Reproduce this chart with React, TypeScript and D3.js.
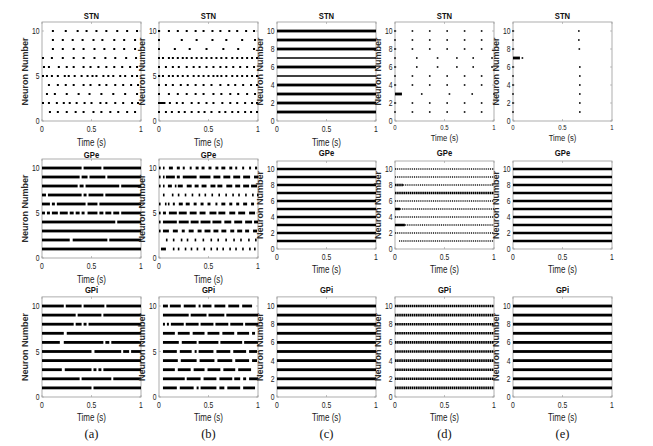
import React from 'react';
import * as d3 from 'd3';

// ---- data -------------------------------------------------------------
// rows are listed neuron 1 first, neuron 10 last
type Seg = [number, number];

const nuclei = ['STN', 'GPe', 'GPi'];
const panelLetters = ['(a)', '(b)', '(c)', '(d)', '(e)'];
const neurons = [1, 2, 3, 4, 5, 6, 7, 8, 9, 10];
const xTicks = [0, 0.5, 1];
const yTicksWide = [0, 5, 10];
const yTicksFine = [0, 2, 4, 6, 8, 10];

// STN spike times (s)
const stnA: number[][] = [
  [0.08, 0.16, 0.25, 0.34, 0.42, 0.52, 0.6, 0.69, 0.77, 0.86, 0.94],
  [0.01, 0.07, 0.15, 0.22, 0.28, 0.35, 0.43, 0.5, 0.59, 0.65, 0.74, 0.82, 0.91, 0.97],
  [0.05, 0.13, 0.25, 0.37, 0.48, 0.6, 0.72, 0.84, 0.96],
  [0.07, 0.16, 0.24, 0.32, 0.42, 0.49, 0.58, 0.65, 0.74, 0.82, 0.9, 0.97],
  [0.01, 0.05, 0.1, 0.16, 0.23, 0.27, 0.33, 0.4, 0.46, 0.51, 0.55, 0.62, 0.67, 0.72, 0.79, 0.84, 0.91, 0.96],
  [0.02, 0.07, 0.17, 0.25, 0.32, 0.42, 0.49, 0.57, 0.65, 0.73, 0.81, 0.89, 0.96],
  [0.01, 0.1, 0.21, 0.32, 0.42, 0.53, 0.64, 0.74, 0.85, 0.95],
  [0.11, 0.21, 0.32, 0.42, 0.53, 0.63, 0.73, 0.83, 0.94],
  [0.11, 0.21, 0.31, 0.41, 0.52, 0.61, 0.73, 0.83, 0.94],
  [0.11, 0.24, 0.36, 0.45, 0.55, 0.65, 0.76, 0.86, 0.96],
];
const stnB: number[][] = [
  [0, 0.07, 0.13, 0.2, 0.26, 0.33, 0.4, 0.46, 0.53, 0.61, 0.67, 0.74, 0.8, 0.87, 0.93, 0.99],
  [0, 0.015, 0.03, 0.04, 0.055, 0.11, 0.18, 0.24, 0.33, 0.4, 0.48, 0.55, 0.64, 0.72, 0.79, 0.87, 0.94, 0.99],
  [0, 0.1, 0.19, 0.28, 0.37, 0.45, 0.55, 0.63, 0.72, 0.8, 0.89, 0.97],
  [0, 0.07, 0.14, 0.22, 0.29, 0.37, 0.45, 0.53, 0.62, 0.7, 0.77, 0.85, 0.93, 0.99],
  [0, 0.04, 0.1, 0.14, 0.19, 0.24, 0.29, 0.35, 0.4, 0.45, 0.5, 0.55, 0.59, 0.63, 0.68, 0.74, 0.79, 0.84, 0.89, 0.94, 0.99],
  [0, 0.07, 0.14, 0.2, 0.28, 0.35, 0.41, 0.48, 0.55, 0.62, 0.68, 0.75, 0.82, 0.89, 0.96],
  [0, 0.04, 0.1, 0.14, 0.19, 0.24, 0.28, 0.33, 0.38, 0.43, 0.48, 0.53, 0.58, 0.63, 0.68, 0.74, 0.79, 0.84, 0.89, 0.94, 0.99],
  [0, 0.16, 0.31, 0.48, 0.65, 0.8, 0.96],
  [0, 0.23, 0.38, 0.54, 0.68, 0.84, 0.97],
  [0, 0.1, 0.19, 0.28, 0.37, 0.45, 0.54, 0.62, 0.71, 0.79, 0.88, 0.96],
];
const stnD: number[][] = [
  [0, 0.176, 0.351, 0.527, 0.703, 0.875],
  [0, 0.176, 0.351, 0.527, 0.703, 0.875],
  [0.27, 0.55, 0.78, 1.0],
  [0, 0.176, 0.351, 0.527, 0.703, 0.875],
  [0, 0.176, 0.351, 0.527, 0.703, 0.875],
  [0, 0.22, 0.43, 0.625, 0.79, 0.98],
  [0, 0.22, 0.43, 0.625, 0.79, 0.98],
  [0, 0.176, 0.351, 0.527, 0.703, 0.875],
  [0, 0.176, 0.351, 0.527, 0.703, 0.875],
  [0, 0.176, 0.351, 0.527, 0.703, 0.875],
];
const stnDBurst: Seg[][] = [[], [], [[0, 0.07]], [], [], [], [], [], [], []];
const stnE: number[][] = [
  [0, 0.675], [0, 0.675], [0, 0.675], [0, 0.675], [0, 0.675],
  [0, 0.675], [0.095], [0, 0.67], [0, 0.665], [0, 0.665],
];
const stnEBurst: Seg[][] = [[], [], [], [], [], [], [[0, 0.07]], [], [], []];

// firing intervals (s): continuous high-rate firing
const full: Seg[] = [[0, 1]];
const allFull: Seg[][] = [full, full, full, full, full, full, full, full, full, full];

const stnCDense: Seg[][] = [full, full, full, full, [], full, [], full, full, full];
const stnCWeak: Seg[][] = [[], [], [], [], full, [], full, [], [], []];

const gpeA: Seg[][] = [
  [[0, 1]],
  [[0, 0.28], [0.31, 0.66], [0.68, 1]],
  [[0, 1]],
  [[0, 0.74], [0.76, 1]],
  [[0, 0.03], [0.05, 0.08], [0.1, 0.16], [0.18, 0.26], [0.28, 0.32], [0.34, 0.38], [0.4, 0.43], [0.46, 0.56], [0.58, 0.62], [0.64, 0.7], [0.72, 0.78], [0.8, 1]],
  [[0, 0.08], [0.1, 0.13], [0.15, 0.44], [0.46, 0.56], [0.58, 1]],
  [[0, 0.04], [0.06, 0.4], [0.42, 0.45], [0.47, 0.62], [0.64, 1]],
  [[0, 0.36], [0.38, 0.42], [0.44, 0.78], [0.8, 1]],
  [[0, 0.38], [0.4, 0.46], [0.48, 0.64], [0.66, 1]],
  [[0, 0.4], [0.42, 0.6], [0.62, 1]],
];
const gpeB: Seg[][] = [
  [[0.02, 0.07], [0.14, 0.145], [0.19, 0.195], [0.26, 0.265], [0.32, 0.325], [0.38, 0.385], [0.45, 0.455], [0.52, 0.525], [0.58, 0.585], [0.64, 0.645], [0.71, 0.715], [0.77, 0.775], [0.84, 0.845], [0.91, 0.915], [0.96, 0.965]],
  [[0.07, 0.085], [0.14, 0.155], [0.22, 0.235], [0.28, 0.295], [0.36, 0.375], [0.44, 0.455], [0.52, 0.535], [0.59, 0.605], [0.67, 0.685], [0.75, 0.765], [0.82, 0.835], [0.9, 0.915], [0.97, 0.985]],
  [[0, 0.01], [0.04, 0.1], [0.14, 0.19], [0.23, 0.26], [0.3, 0.35], [0.39, 0.43], [0.46, 0.52], [0.55, 0.6], [0.63, 0.68], [0.72, 0.76], [0.79, 0.84], [0.87, 0.91], [0.95, 0.99]],
  [[0, 0.015], [0.04, 0.18], [0.2, 0.3], [0.32, 0.4], [0.42, 0.52], [0.54, 0.63], [0.66, 0.73], [0.76, 0.84], [0.87, 0.94], [0.96, 1]],
  [[0, 0.01], [0.04, 0.07], [0.1, 0.18], [0.2, 0.28], [0.31, 0.38], [0.41, 0.47], [0.51, 0.58], [0.6, 0.67], [0.71, 0.77], [0.8, 0.87], [0.91, 0.97]],
  [[0, 0.015], [0.06, 0.065], [0.09, 0.095], [0.14, 0.16], [0.2, 0.24], [0.27, 0.31], [0.35, 0.38], [0.42, 0.45], [0.49, 0.52], [0.57, 0.59], [0.63, 0.67], [0.71, 0.74], [0.78, 0.81], [0.85, 0.89], [0.93, 0.96]],
  [[0.04, 0.045], [0.13, 0.135], [0.19, 0.195], [0.26, 0.265], [0.33, 0.335], [0.4, 0.405], [0.46, 0.465], [0.53, 0.535], [0.6, 0.605], [0.67, 0.675], [0.74, 0.745], [0.8, 0.805], [0.87, 0.875], [0.94, 0.945], [0.99, 0.995]],
  [[0, 0.01], [0.04, 0.05], [0.09, 0.13], [0.16, 0.17], [0.19, 0.24], [0.28, 0.33], [0.36, 0.4], [0.43, 0.48], [0.52, 0.57], [0.59, 0.64], [0.68, 0.74], [0.77, 0.82], [0.85, 0.91], [0.93, 0.99]],
  [[0, 0.01], [0.04, 0.05], [0.07, 0.16], [0.18, 0.21], [0.24, 0.38], [0.41, 0.52], [0.55, 0.62], [0.65, 0.72], [0.75, 0.82], [0.85, 0.92], [0.96, 1]],
  [[0, 0.015], [0.04, 0.045], [0.1, 0.14], [0.18, 0.21], [0.24, 0.26], [0.31, 0.33], [0.37, 0.4], [0.43, 0.46], [0.5, 0.53], [0.57, 0.6], [0.63, 0.67], [0.71, 0.74], [0.77, 0.79], [0.84, 0.86], [0.91, 0.93], [0.97, 0.99]],
];
const gpeDDense: Seg[][] = [[], [], [[0, 0.1]], [], [[0, 0.05]], [], [], [], [], []];
const gpeDFast: Seg[][] = [[], [], [], [], [], [], [[0, 1]], [[0, 0.08]], [], []];
const gpeDTonic: Seg[][] = [
  [[0.04, 1]], [[0, 1]], [[0.1, 1]], [[0, 1]], [[0.05, 1]],
  [[0, 1]], [], [[0.08, 1]], [[0, 1]], [[0, 1]],
];

const gpiA: Seg[][] = [
  [[0, 0.5], [0.52, 1]],
  [[0, 0.38], [0.4, 0.7], [0.72, 1]],
  [[0, 0.2], [0.23, 0.5], [0.52, 0.55], [0.57, 0.6], [0.62, 1]],
  [[0, 1]],
  [[0, 0.5], [0.53, 0.8], [0.82, 0.88], [0.9, 1]],
  [[0, 0.18], [0.22, 0.62], [0.64, 0.68], [0.7, 1]],
  [[0, 0.22], [0.25, 1]],
  [[0, 0.32], [0.34, 0.4], [0.42, 0.45], [0.47, 1]],
  [[0, 0.34], [0.36, 0.6], [0.62, 1]],
  [[0, 0.22], [0.24, 0.4], [0.42, 0.63], [0.65, 1]],
];
const gpiB: Seg[][] = [
  [[0.04, 0.18], [0.21, 0.35], [0.38, 0.4], [0.42, 0.58], [0.61, 0.66], [0.69, 0.82], [0.85, 0.97]],
  [[0.04, 0.26], [0.28, 0.42], [0.45, 0.58], [0.61, 0.74], [0.76, 0.82], [0.85, 0.88], [0.91, 1]],
  [[0.04, 0.16], [0.19, 0.32], [0.35, 0.46], [0.49, 0.62], [0.65, 0.77], [0.8, 0.93]],
  [[0.04, 0.19], [0.22, 0.38], [0.41, 0.56], [0.59, 0.74], [0.77, 0.91], [0.94, 0.99]],
  [[0.04, 0.18], [0.21, 0.33], [0.36, 0.38], [0.4, 0.55], [0.58, 0.72], [0.75, 0.88], [0.91, 0.99]],
  [[0.04, 0.2], [0.23, 0.38], [0.4, 0.6], [0.62, 0.84], [0.86, 1]],
  [[0.04, 0.16], [0.19, 0.31], [0.34, 0.46], [0.49, 0.61], [0.64, 0.76], [0.79, 0.91], [0.94, 0.97]],
  [[0.04, 0.06], [0.08, 0.1], [0.12, 0.25], [0.27, 0.4], [0.42, 0.55], [0.57, 0.7], [0.72, 0.85], [0.87, 1]],
  [[0.04, 0.3], [0.32, 0.48], [0.5, 0.66], [0.68, 1]],
  [[0.04, 0.09], [0.11, 0.22], [0.25, 0.37], [0.4, 0.42], [0.44, 0.53], [0.56, 0.67], [0.7, 0.81], [0.84, 0.94]],
];

type PanelData = {
  spikes?: number[][];
  dense?: Seg[][];
  fast?: Seg[][];
  tonic?: Seg[][];
  weak?: Seg[][];
};

// panels[row][col]
const panels: PanelData[][] = [
  [
    { spikes: stnA },
    { spikes: stnB },
    { dense: stnCDense, weak: stnCWeak },
    { spikes: stnD, dense: stnDBurst },
    { spikes: stnE, dense: stnEBurst },
  ],
  [
    { dense: gpeA },
    { dense: gpeB },
    { dense: allFull },
    { dense: gpeDDense, fast: gpeDFast, tonic: gpeDTonic },
    { dense: allFull },
  ],
  [
    { dense: gpiA },
    { dense: gpiB },
    { dense: allFull },
    { fast: allFull },
    { dense: allFull },
  ],
];

// ---- layout -------------------------------------------------------------
const W = 653;
const H = 446;
const colLeft = [42, 159, 277, 395, 513];
const plotW = 99;

// y pixel of neuron 0 and px per neuron, per row and column
const geom = (row: number, col: number) => {
  if (row === 0) return col >= 3
    ? { bottom: 121, unit: 9, title: 19, tick: 8.5, tickSize: 7.5, xlab: 141 }
    : { bottom: 121, unit: 9, title: 19, tick: 10.5, tickSize: 8.5, xlab: 146 };
  if (row === 1) return col < 2
    ? { bottom: 258, unit: 9, title: 158, tick: 10.5, tickSize: 8.5, xlab: 283 }
    : { bottom: 249, unit: 8, title: 156, tick: 10.5, tickSize: 8.5, xlab: 273 };
  return { bottom: 397, unit: 9.1, title: 293, tick: 10.5, tickSize: 8.5, xlab: 421 };
};

const sans = "'Liberation Sans', Arial, sans-serif";
const boxColor = '#9a9a9a';

// condensed look of the original (Arial Narrow) by squeezing Liberation Sans
const Narrow = ({ x, y, size, anchor = 'middle', children }:
  { x: number; y: number; size: number; anchor?: string; children: React.ReactNode }) => (
  <text transform={`translate(${x},${y}) scale(0.8,1)`} textAnchor={anchor}
    fontFamily={sans} fontSize={size} fill="#1a1a1a">
    {children}
  </text>
);

const Panel = ({ row, col, data }: { row: number; col: number; data: PanelData }) => {
  const g = geom(row, col);
  const left = colLeft[col];
  const top = g.bottom - 11 * g.unit;
  const x = d3.scaleLinear().domain([0, 1]).range([left, left + plotW]);
  const y = d3.scaleLinear().domain([0, 11]).range([g.bottom, top]);
  const yTicks = col < 2 ? yTicksWide : yTicksFine;
  const thick = g.unit >= 9 ? 2.8 : 2.5;
  const dot = col < 2 ? 2 : 1.6;

  const segs = (list: Seg[][] | undefined) =>
    (list || []).flatMap((r, i) => r.map((s) => ({ n: neurons[i], s })));

  return (
    <g>
      <rect x={left} y={top} width={plotW} height={g.bottom - top} fill="#fff" stroke={boxColor} strokeWidth={0.8} />
      {xTicks.map((t) => (
        <g key={'x' + t}>
          <line x1={x(t)} x2={x(t)} y1={g.bottom} y2={g.bottom - 2} stroke={boxColor} strokeWidth={0.6} />
          <line x1={x(t)} x2={x(t)} y1={top} y2={top + 2} stroke={boxColor} strokeWidth={0.6} />
          <Narrow x={x(t)} y={g.bottom + g.tick} size={g.tickSize}>{t}</Narrow>
        </g>
      ))}
      {yTicks.map((t) => (
        <g key={'y' + t}>
          <line x1={left} x2={left + 2} y1={y(t)} y2={y(t)} stroke={boxColor} strokeWidth={0.6} />
          <line x1={left + plotW} x2={left + plotW - 2} y1={y(t)} y2={y(t)} stroke={boxColor} strokeWidth={0.6} />
          <Narrow x={left - 2.5} y={y(t) + 3} size={8.5} anchor="end">{t}</Narrow>
        </g>
      ))}

      {segs(data.dense).map(({ n, s }, i) => (
        <rect key={'d' + i} x={x(s[0])} y={y(n) - thick / 2}
          width={Math.max(x(s[1]) - x(s[0]), 1.6)} height={thick} fill="#000" />
      ))}
      {segs(data.weak).map(({ n, s }, i) => (
        <line key={'w' + i} x1={x(s[0])} x2={x(s[1])} y1={y(n)} y2={y(n)} stroke="#000" strokeWidth={1.6} />
      ))}
      {segs(data.fast).map(({ n, s }, i) => (
        <line key={'f' + i} x1={x(s[0])} x2={x(s[1])} y1={y(n)} y2={y(n)}
          stroke="#000" strokeWidth={2.6} strokeDasharray="1.6 0.5" />
      ))}
      {segs(data.tonic).map(({ n, s }, i) => (
        <line key={'t' + i} x1={x(s[0])} x2={x(s[1])} y1={y(n)} y2={y(n)}
          stroke="#111" strokeWidth={1.4} strokeDasharray="1 0.9" />
      ))}
      {(data.spikes || []).flatMap((r, i) =>
        r.map((t, j) => (
          <rect key={'s' + i + '-' + j} x={x(t) - dot / 2} y={y(neurons[i]) - dot / 2}
            width={dot} height={dot} fill="#000" />
        ))
      )}

      <text transform={`translate(${left + plotW / 2},${g.title}) scale(0.85,1)`} textAnchor="middle"
        fontFamily={sans} fontWeight="bold" fontSize={9} fill="#111">
        {nuclei[row]}
      </text>
      <Narrow x={left + plotW / 2} y={g.xlab} size={g.xlab - g.bottom < 22 ? 9.5 : 10}>Time (s)</Narrow>
      <text transform={`translate(${left - 14},${(top + g.bottom) / 2}) rotate(-90) scale(0.95,1)`} textAnchor="middle"
        fontFamily={sans} fontWeight="bold" fontSize={9.5} fill="#2a2a2a">
        Neuron Number
      </text>
    </g>
  );
};

export default function App() {
  return (
    <svg width={W} height={H} viewBox={`0 0 ${W} ${H}`}
      style={{ position: 'absolute', left: 0, top: 0, background: '#fff' }}>
      <rect width={W} height={H} fill="#fff" />
      {panels.map((r, ri) => r.map((p, ci) => <Panel key={ri + '-' + ci} row={ri} col={ci} data={p} />))}
      {panelLetters.map((l, ci) => (
        <text key={l} x={colLeft[ci] + plotW / 2} y={438} textAnchor="middle"
          fontFamily="'Liberation Serif', 'Times New Roman', serif" fontSize={12.5} fill="#111">
          {l}
        </text>
      ))}
    </svg>
  );
}
